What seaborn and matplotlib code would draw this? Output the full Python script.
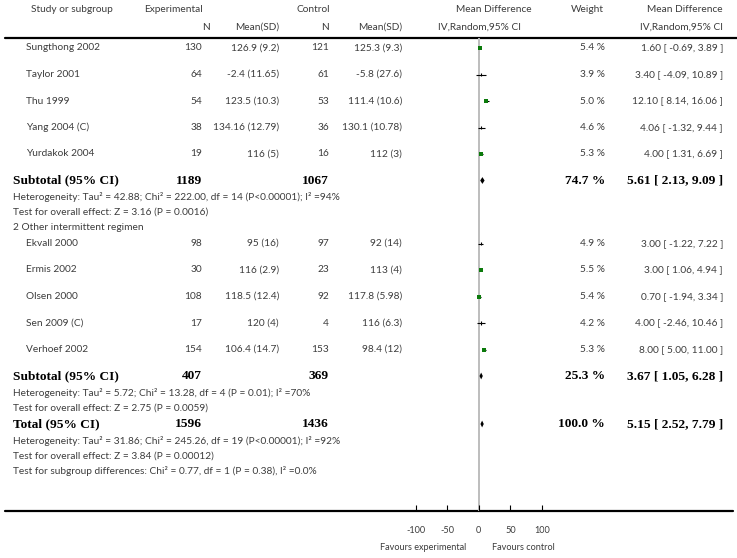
import matplotlib
matplotlib.use("Agg")
import matplotlib.pyplot as plt
import numpy as np
import seaborn as sns

# ---- data ----
group1_names = ["Sungthong 2002", "Taylor 2001", "Thu 1999", "Yang 2004 (C)", "Yurdakok 2004"]
group1_exp_n = [130, 64, 54, 38, 19]
group1_exp_msd = ["126.9 (9.2)", "-2.4 (11.65)", "123.5 (10.3)", "134.16 (12.79)", "116 (5)"]
group1_ctl_n = [121, 61, 53, 36, 16]
group1_ctl_msd = ["125.3 (9.3)", "-5.8 (27.6)", "111.4 (10.6)", "130.1 (10.78)", "112 (3)"]
group1_weight = [5.4, 3.9, 5.0, 4.6, 5.3]
group1_md = [1.60, 3.40, 12.10, 4.06, 4.00]
group1_lo = [-0.69, -4.09, 8.14, -1.32, 1.31]
group1_hi = [3.89, 10.89, 16.06, 9.44, 6.69]

group2_label = "2 Other intermittent regimen"
group2_names = ["Ekvall 2000", "Ermis 2002", "Olsen 2000", "Sen 2009 (C)", "Verhoef 2002"]
group2_exp_n = [98, 30, 108, 17, 154]
group2_exp_msd = ["95 (16)", "116 (2.9)", "118.5 (12.4)", "120 (4)", "106.4 (14.7)"]
group2_ctl_n = [97, 23, 92, 4, 153]
group2_ctl_msd = ["92 (14)", "113 (4)", "117.8 (5.98)", "116 (6.3)", "98.4 (12)"]
group2_weight = [4.9, 5.5, 5.4, 4.2, 5.3]
group2_md = [3.00, 3.00, 0.70, 4.00, 8.00]
group2_lo = [-1.22, 1.06, -1.94, -2.46, 5.00]
group2_hi = [7.22, 4.94, 3.34, 10.46, 11.00]

# subtotal / total rows
pooled_labels = ["Subtotal (95% CI)", "Subtotal (95% CI)", "Total (95% CI)"]
pooled_exp_n = [1189, 407, 1596]
pooled_ctl_n = [1067, 369, 1436]
pooled_weight = [74.7, 25.3, 100.0]
pooled_md = [5.61, 3.67, 5.15]
pooled_lo = [2.13, 1.05, 2.52]
pooled_hi = [9.09, 6.28, 7.79]

stats_group1 = [
    "Heterogeneity: Tau² = 42.88; Chi² = 222.00, df = 14 (P<0.00001); I² =94%",
    "Test for overall effect: Z = 3.16 (P = 0.0016)",
]
stats_group2 = [
    "Heterogeneity: Tau² = 5.72; Chi² = 13.28, df = 4 (P = 0.01); I² =70%",
    "Test for overall effect: Z = 2.75 (P = 0.0059)",
]
stats_total = [
    "Heterogeneity: Tau² = 31.86; Chi² = 245.26, df = 19 (P<0.00001); I² =92%",
    "Test for overall effect: Z = 3.84 (P = 0.00012)",
    "Test for subgroup differences: Chi² = 0.77, df = 1 (P = 0.38), I² =0.0%",
]

axis_ticks = [-100, -50, 0, 50, 100]
favours_left = "Favours experimental"
favours_right = "Favours control"

# ---- layout (pixels) ----
W, H = 737, 558
TEXT = "#3c3c3c"
GREEN = "#0b7a0b"
SANS = ["Lato", "DejaVu Sans"]
SERIF = "Liberation Serif"
FS = 7.3
FS_BOLD = 9.6
HEAD_LINE = 38
BOTTOM_LINE = 511
PLOT_L, PLOT_R = 415.7, 542.0  # pixel span of -100 .. 100
STUDY_GAP, SUB_GAP, STAT_GAP = 26.5, 26.5, 15.5

sns.set_theme(style="white")
plt.rcParams["font.family"] = SANS

fig = plt.figure(figsize=(W / 100, H / 100), dpi=100)
fig.patch.set_facecolor("white")
ax = fig.add_axes([0, 0, 1, 1])
ax.set_xlim(0, W)
ax.set_ylim(H, 0)
ax.axis("off")

# forest axes: x in mean-difference units, y in the same pixel rows
fax = fig.add_axes([PLOT_L / W, (H - BOTTOM_LINE) / H,
                    (PLOT_R - PLOT_L) / W, (BOTTOM_LINE - HEAD_LINE) / H])
fax.patch.set_alpha(0)
for s in fax.spines.values():
    s.set_visible(False)
fax.set_yticks([])
fax.set_xticks(axis_ticks)
fax.set_xticklabels([str(t) for t in axis_ticks], fontsize=6.6, color=TEXT)
fax.tick_params(axis="x", bottom=True, direction="in", length=4, width=0.8,
                color="black", pad=11)
fax.axvline(0, color="#bdbdbd", lw=1.4, zorder=0)

# column x positions
X_NAME, X_LEFT = 26, 13
X_EN, X_EMSD, X_CN, X_CMSD = 202, 279, 329, 402
X_W, X_CI = 605, 723


def txt(x, y, s, ha="left", bold=False):
    if bold:
        ax.text(x, y, s, ha=ha, va="center", fontsize=FS_BOLD, family=SERIF,
                weight="bold", color="black")
    else:
        ax.text(x, y, s, ha=ha, va="center", fontsize=FS, color=TEXT)


# header
txt(72, 9, "Study or subgroup", ha="center")
txt(173, 9, "Experimental", ha="center")
txt(313, 9, "Control", ha="center")
txt(494, 9, "Mean Difference", ha="center")
txt(587, 9, "Weight", ha="center")
txt(X_CI, 9, "Mean Difference", ha="right")
txt(210, 27, "N", ha="right")
txt(X_EMSD, 27, "Mean(SD)", ha="right")
txt(X_CN, 27, "N", ha="right")
txt(X_CMSD, 27, "Mean(SD)", ha="right")
txt(480, 27, "IV,Random,95% CI", ha="center")
txt(X_CI, 27, "IV,Random,95% CI", ha="right")
ax.plot([5, W], [HEAD_LINE, HEAD_LINE], color="black", lw=1.6)
ax.plot([5, 733], [BOTTOM_LINE, BOTTOM_LINE], color="black", lw=1.6)

study_rows = []


def draw_studies(names, en, emsd, cn, cmsd, wt, md, lo, hi, y):
    for i in range(len(names)):
        if i:
            y += STUDY_GAP
        txt(X_NAME, y, names[i])
        txt(X_EN, y, str(en[i]), ha="right")
        txt(X_EMSD, y, emsd[i], ha="right")
        txt(X_CN, y, str(cn[i]), ha="right")
        txt(X_CMSD, y, cmsd[i], ha="right")
        txt(X_W, y, f"{wt[i]:.1f} %", ha="right")
        txt(X_CI, y, f"{md[i]:.2f} [ {lo[i]:.2f}, {hi[i]:.2f} ]", ha="right")
        study_rows.append((y, wt[i], md[i], lo[i], hi[i]))
    return y


def draw_pooled(k, y):
    txt(X_LEFT, y, pooled_labels[k], bold=True)
    txt(X_EN, y, str(pooled_exp_n[k]), ha="right", bold=True)
    txt(X_CN, y, str(pooled_ctl_n[k]), ha="right", bold=True)
    txt(X_W, y, f"{pooled_weight[k]:.1f} %", ha="right", bold=True)
    txt(X_CI, y, f"{pooled_md[k]:.2f} [ {pooled_lo[k]:.2f}, {pooled_hi[k]:.2f} ]",
        ha="right", bold=True)
    m, l, h = pooled_md[k], pooled_lo[k], pooled_hi[k]
    fax.fill([l, m, h, m], [y, y - 3.4, y, y + 3.4], color="black", lw=0)


def draw_stats(lines, y, first_gap=16.5):
    for j, s in enumerate(lines):
        y += first_gap if j == 0 else STAT_GAP
        txt(X_LEFT, y, s)
    return y


y = HEAD_LINE + 10
y = draw_studies(group1_names, group1_exp_n, group1_exp_msd, group1_ctl_n,
                 group1_ctl_msd, group1_weight, group1_md, group1_lo, group1_hi, y)
y += SUB_GAP
draw_pooled(0, y)
y = draw_stats(stats_group1, y)
y += STAT_GAP
txt(X_LEFT, y, group2_label)
y += STAT_GAP
y = draw_studies(group2_names, group2_exp_n, group2_exp_msd, group2_ctl_n,
                 group2_ctl_msd, group2_weight, group2_md, group2_lo, group2_hi, y)
y += SUB_GAP
draw_pooled(1, y)
y = draw_stats(stats_group2, y)
y += STAT_GAP + 0.5
draw_pooled(2, y)
y = draw_stats(stats_total, y)

# study marks: CI whiskers, green squares for the heavier studies
rows_y = np.array([r[0] for r in study_rows])
rows_w = np.array([r[1] for r in study_rows])
rows_md = np.array([r[2] for r in study_rows])
fax.hlines(rows_y, [r[3] for r in study_rows], [r[4] for r in study_rows],
           color="black", lw=0.8)
big = rows_w >= 5.0
fax.vlines(rows_md[~big], rows_y[~big] - 1.6, rows_y[~big] + 1.6, color="black", lw=0.8)
sns.scatterplot(x=rows_md[big], y=rows_y[big], marker="s", s=9, color=GREEN,
                edgecolor=GREEN, linewidth=0, ax=fax, zorder=3, legend=False)
fax.set_ylim(BOTTOM_LINE, HEAD_LINE)
fax.set_xlim(-100, 100)
fax.set_xlabel("")
fax.set_ylabel("")

# favours labels
ax.text(423, 548, favours_left, ha="center", va="center", fontsize=6.6, color=TEXT)
ax.text(523, 548, favours_right, ha="center", va="center", fontsize=6.6, color=TEXT)

fig.savefig("out.png", dpi=100, facecolor="white")
